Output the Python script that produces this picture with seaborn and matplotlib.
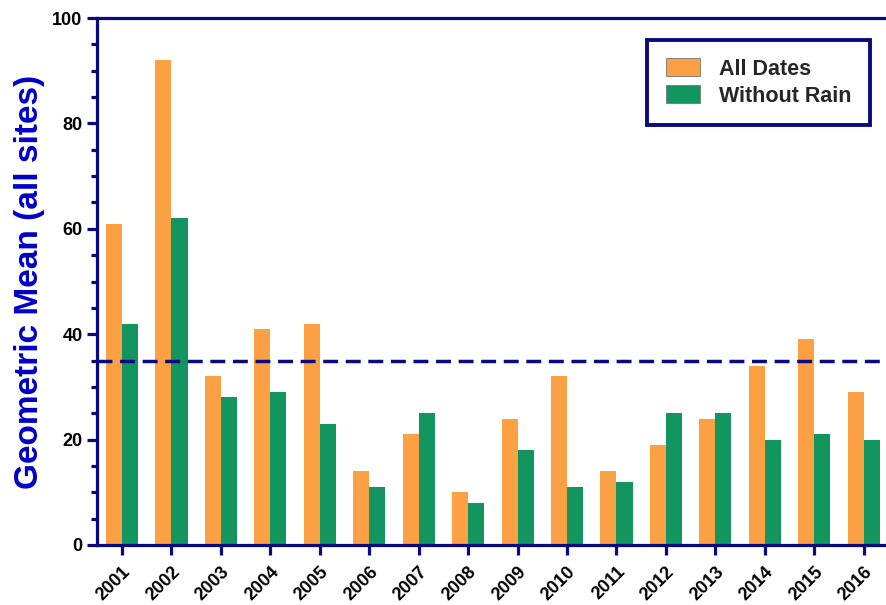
import pandas as pd
import matplotlib.pyplot as plt
import seaborn as sns

# dados
anos = ["2001", "2002", "2003", "2004", "2005", "2006", "2007", "2008",
        "2009", "2010", "2011", "2012", "2013", "2014", "2015", "2016"]
todas_datas = [61, 92, 32, 41, 42, 14, 21, 10, 24, 32, 14, 19, 24, 34, 39, 29]
sem_chuva = [42, 62, 28, 29, 23, 11, 25, 8, 18, 11, 12, 25, 25, 20, 21, 20]
series = ["All Dates", "Without Rain"]
limite = 35

navy = "#0a0a80"
cores = ["#FBA143", "#13955F"]

df = pd.DataFrame({
    "ano": anos * 2,
    "serie": [series[0]] * len(anos) + [series[1]] * len(anos),
    "valor": todas_datas + sem_chuva,
})

sns.set_style("ticks")
plt.rcParams["font.family"] = ["Liberation Sans", "DejaVu Sans"]
plt.rcParams["font.weight"] = "bold"

fig = plt.figure(figsize=(8.86, 6.05), dpi=100)
ax = fig.add_axes([0.1095, 0.0992, 0.8905, 0.871])

sns.barplot(data=df, x="ano", y="valor", hue="serie", palette=cores,
            width=0.65, gap=0, saturation=1, linewidth=0, ax=ax, legend=True)

# linha de referencia
ax.axhline(limite, color=navy, lw=2.5, ls=(0, (4.3, 2.2)), zorder=3)

ax.set_ylim(0, 100)
ax.set_xlim(-0.505, 15.45)
ax.set_yticks([0, 20, 40, 60, 80, 100])
ax.set_yticks(range(0, 101, 5), minor=True)
ax.set_xlabel("")
ax.set_ylabel("Geometric Mean (all sites)", color="#0000c8", fontsize=24,
              fontweight="bold", labelpad=5)

for s in ["left", "bottom", "top"]:
    ax.spines[s].set_color(navy)
    ax.spines[s].set_linewidth(2.3)
ax.spines["right"].set_visible(False)

ax.tick_params(axis="both", which="major", color=navy, width=2.3, length=7,
               labelsize=13, labelcolor="black")
ax.tick_params(axis="y", which="minor", color=navy, width=2.3, length=4)
ax.tick_params(axis="x", which="major", pad=6)
plt.setp(ax.get_xticklabels(), rotation=45, ha="right", rotation_mode="anchor",
         fontweight="bold")
plt.setp(ax.get_yticklabels(), fontweight="bold")

leg = ax.legend(loc="upper right", bbox_to_anchor=(0.98, 0.958),
                frameon=True, fancybox=False, framealpha=1, fontsize=15.5,
                handlelength=1.6, handleheight=0.9, borderpad=0.85,
                labelspacing=0.25, handletextpad=0.9, borderaxespad=0)
leg.get_frame().set_edgecolor(navy)
leg.get_frame().set_linewidth(2.8)
for t in leg.get_texts():
    t.set_fontweight("bold")
for h in leg.get_patches():
    h.set_edgecolor("#777777")
    h.set_linewidth(0.6)

fig.savefig("out.png", dpi=100)
